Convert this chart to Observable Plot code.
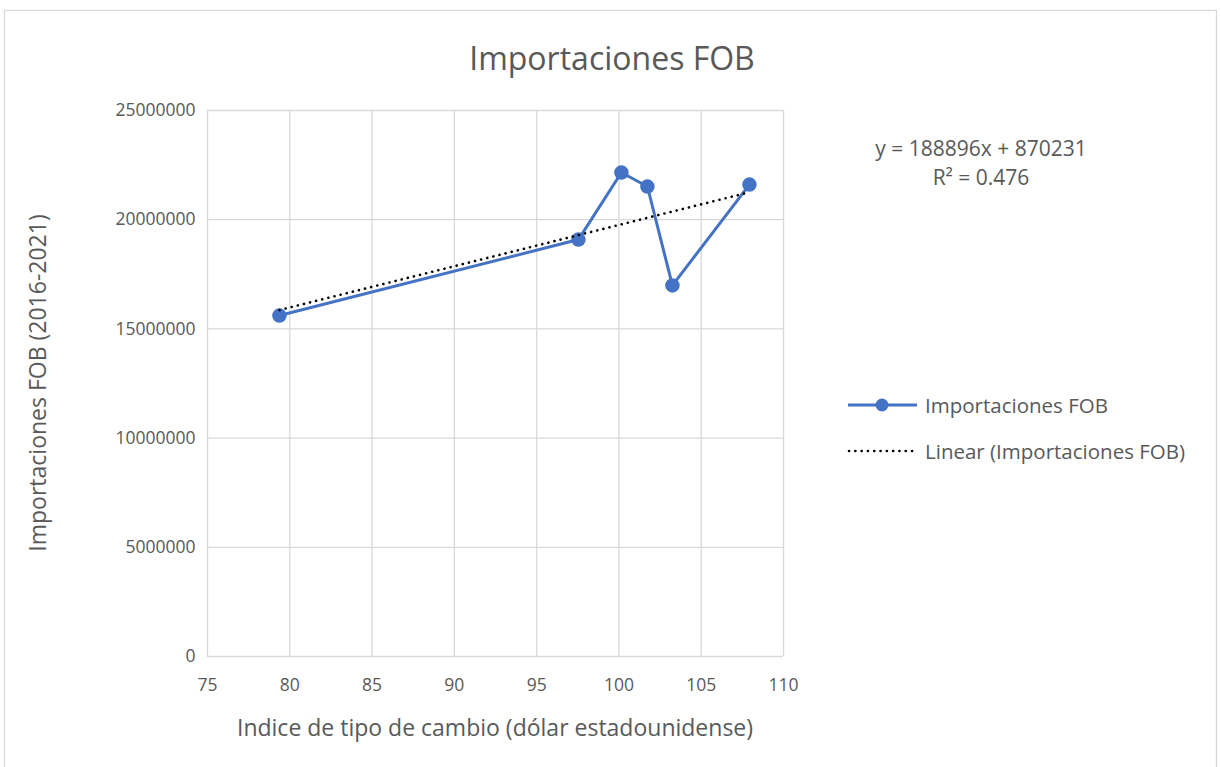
<!DOCTYPE html>
<html><head><meta charset="utf-8">
<script src="https://cdn.jsdelivr.net/npm/d3@7"></script>
<script src="https://cdn.jsdelivr.net/npm/@observablehq/plot@0.6"></script>
<style>body{margin:0;background:#fff}</style>
</head><body><div id="chart"></div>
<script>
const indice = [79.37, 97.54, 100.15, 101.73, 103.25, 107.93];
const importaciones = [15610000, 19090000, 22160000, 21520000, 16990000, 21610000];
const xTicks = [75, 80, 85, 90, 95, 100, 105, 110];
const yTicks = [0, 5000000, 10000000, 15000000, 20000000, 25000000];
const slope = 188896, intercept = 870231;
const title = "Importaciones FOB";
const xLabel = "Indice de tipo de cambio (dólar estadounidense)";
const yLabel = "Importaciones FOB (2016-2021)";
const seriesName = "Importaciones FOB";
const trendName = "Linear (Importaciones FOB)";
const eqLines = ["y = 188896x + 870231", "R² = 0.476"];

const data = indice.map((x, i) => ({x, y: importaciones[i]}));
const trend = d3.extent(indice).map(x => ({x, y: slope * x + intercept}));

const FONT = "'Open Sans', sans-serif";
const TXT = "#595959";
const BLUE = "#4472C4";
const GRID = "#d9d9d9";

const svg = Plot.plot({
  width: 1221, height: 767,
  marginLeft: 207, marginRight: 438, marginTop: 110, marginBottom: 111,
  style: {fontFamily: FONT, fontSize: "17.5px", color: TXT, background: "#fff"},
  x: {domain: [75, 110]},
  y: {domain: [0, 25000000]},
  marks: [
    Plot.gridX(xTicks, {stroke: GRID, strokeOpacity: 1, strokeWidth: 1.3}),
    Plot.gridY(yTicks, {stroke: GRID, strokeOpacity: 1, strokeWidth: 1.3}),
    Plot.axisX(xTicks, {tickSize: 0, tickPadding: 22, label: null, fill: TXT, fontSize: 17.5}),
    Plot.axisY(yTicks, {tickSize: 0, tickPadding: 12, label: null, fill: TXT, fontSize: 17.5, tickFormat: d3.format("d")}),
    Plot.line(data, {x: "x", y: "y", stroke: BLUE, strokeWidth: 3}),
    Plot.dot(data, {x: "x", y: "y", r: 6.5, fill: BLUE, stroke: BLUE}),
    Plot.line(trend, {x: "x", y: "y", stroke: "#000", strokeWidth: 2.6, strokeDasharray: "0.1,6.2", strokeLinecap: "round"})
  ]
});

const s = d3.select(svg);
s.append("rect").attr("x", 4.5).attr("y", 10.5).attr("width", 1212).attr("height", 780)
  .attr("fill", "none").attr("stroke", GRID).attr("stroke-width", 1.3);

const t = (x, y, str, size, anchor) => s.append("text").attr("x", x).attr("y", y)
  .attr("text-anchor", anchor || "middle").attr("dominant-baseline", "central")
  .attr("fill", TXT).attr("font-family", FONT).attr("font-size", size).text(str);

t(612, 57, title, 32);
t(495, 727, xLabel, 23);
t(0, 0, yLabel, 23).attr("transform", "translate(37,383) rotate(-90)");
t(981, 148, eqLines[0], 21);
t(981, 177, eqLines[1], 21);

// legend
s.append("line").attr("x1", 848).attr("x2", 917).attr("y1", 405).attr("y2", 405)
  .attr("stroke", BLUE).attr("stroke-width", 3);
s.append("circle").attr("cx", 882).attr("cy", 405).attr("r", 6.5).attr("fill", BLUE);
t(925, 405, seriesName, 20.5, "start");
s.append("line").attr("x1", 849).attr("x2", 917).attr("y1", 451).attr("y2", 451)
  .attr("stroke", "#000").attr("stroke-width", 2.6).attr("stroke-dasharray", "0.1,6.2").attr("stroke-linecap", "round");
t(925, 451, trendName, 20.5, "start");

document.getElementById("chart").appendChild(svg);
</script></body></html>
